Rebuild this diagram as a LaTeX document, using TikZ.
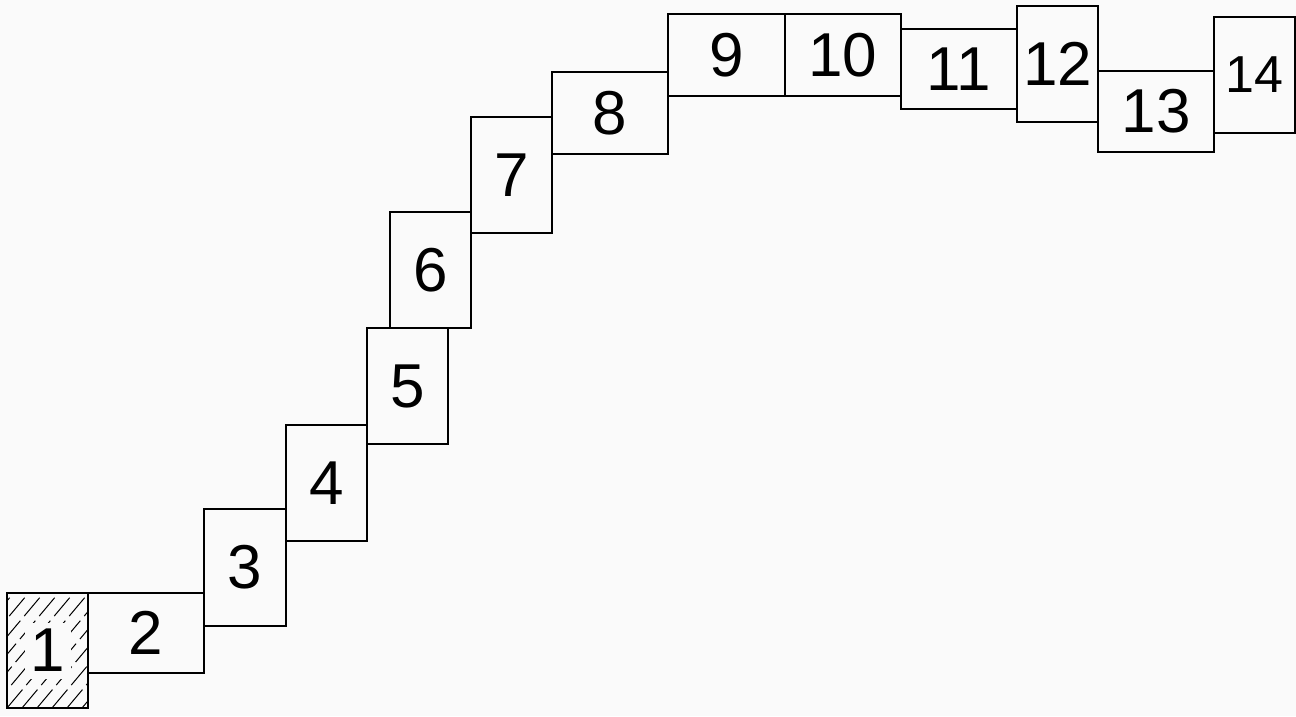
\documentclass[tikz,border=0pt]{standalone}
\usepackage{fontspec}
\setmainfont{Liberation Sans}
\usetikzlibrary{calc}
\definecolor{bg}{HTML}{FAFAFA}
\tikzset{
  cell/.style={draw=black, line width=1.4pt, inner sep=0pt, font=\fontsize{62}{62}\selectfont},
  wide/.style={cell, minimum width=116pt, minimum height=81pt},
  tall/.style={cell, minimum width=81pt, minimum height=116pt},
  hatch/.style={black, line width=1pt, dash pattern=on 24pt off 6pt}
}
\begin{document}
\begin{tikzpicture}[x=1pt,y=-1pt]
\fill[bg] (0,0) rectangle (1296,716);
\useasboundingbox (0,0) rectangle (1296,716);
\node[tall, minimum height=115pt, path picture={
    \foreach \i in {-9,...,6}
      \draw[hatch] ($(path picture bounding box.south west)+(\i*15pt,0pt)$) -- ++(105pt,125pt);
    \fill[bg] ($(path picture bounding box.center)+(-23pt,-28pt)$) rectangle ++(46pt,56pt);
  }] (b1) at (47.5,650.5) {1};
\node[wide, minimum height=80pt] (b2) at (146,633) {2};
\node[tall, minimum width=82pt, minimum height=117pt] (b3) at (245,567.5) {3};
\node[tall] (b4) at (326.5,483) {4};
\node[tall] (b5) at (407.5,386) {5};
\node[tall] (b6) at (430.5,270) {6};
\node[tall] (b7) at (511.5,175) {7};
\node[wide, minimum height=82pt] (b8) at (610,113) {8};
\node[wide, minimum width=117pt, minimum height=82pt] (b9) at (726.5,55) {9};
\node[wide, minimum height=82pt] (b10) at (843,55) {10};
\node[wide, minimum height=80pt] (b11) at (959,69) {11};
\node[tall] (b12) at (1057.5,64) {12};
\node[wide] (b13) at (1156,111.5) {13};
\node[tall, font=\fontsize{52}{52}\selectfont] (b14) at (1254.5,75) {14};
\end{tikzpicture}
\end{document}
